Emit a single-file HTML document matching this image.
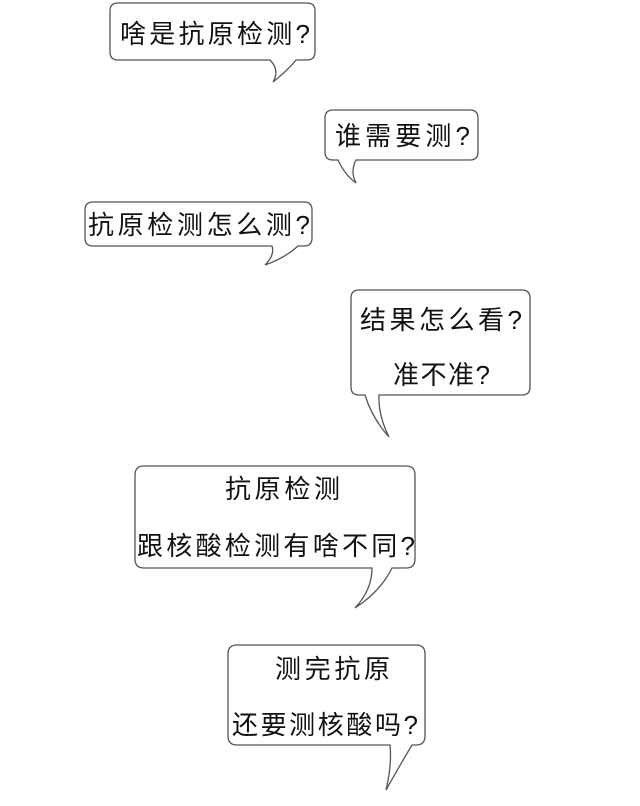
<!DOCTYPE html>
<html><head><meta charset="utf-8"><style>
html,body{margin:0;padding:0;background:#fff;}
svg{display:block}
text{font-family:"Liberation Sans","Noto Sans CJK SC",sans-serif;font-size:26px;fill:#111;}
</style></head><body>
<svg width="640" height="806" viewBox="0 0 640 806" xmlns="http://www.w3.org/2000/svg">
<g fill="#fff" stroke="#555" stroke-width="1.3">
<path d="M118,3 H307 Q315,3 315,11 V52 Q315,60 307,60 H296 Q288,70 273,82 Q280,70 270,60 H118 Q110,60 110,52 V11 Q110,3 118,3 Z"/>
<path d="M333,110 H470 Q478,110 478,118 V152 Q478,160 470,160 H356 Q350,172 356,183 Q345,175 338,160 H333 Q325,160 325,152 V118 Q325,110 333,110 Z"/>
<path d="M93,202 H304 Q312,202 312,210 V238 Q312,246 304,246 H298 Q285,258 265,265 Q275,255 272,246 H93 Q85,246 85,238 V210 Q85,202 93,202 Z"/>
<path d="M359,290 H522 Q530,290 530,298 V387 Q530,395 522,395 H379 Q378,415 389,437 Q372,418 365,395 H359 Q351,395 351,387 V298 Q351,290 359,290 Z"/>
<path d="M144,466 H406 Q415,466 415,475 V559 Q415,568 406,568 H392 Q380,592 355,608 Q372,590 372,568 H144 Q135,568 135,559 V475 Q135,466 144,466 Z"/>
<path d="M237,645 H416 Q425,645 425,654 V736 Q425,745 416,745 H412 Q400,765 386,790 Q392,765 390,745 H237 Q228,745 228,736 V654 Q228,645 237,645 Z"/>
</g>
<text x="120" y="43" textLength="190" lengthAdjust="spacing">啥是抗原检测?</text>
<text x="335" y="145" textLength="135" lengthAdjust="spacing">谁需要测?</text>
<text x="88" y="234" textLength="222" lengthAdjust="spacing">抗原检测怎么测?</text>
<text x="360" y="329" textLength="162" lengthAdjust="spacing">结果怎么看?</text>
<text x="393" y="384" textLength="97" lengthAdjust="spacing">准不准?</text>
<text x="225" y="498" textLength="115" lengthAdjust="spacing">抗原检测</text>
<text x="137" y="555" textLength="278" lengthAdjust="spacing">跟核酸检测有啥不同?</text>
<text x="275" y="678" textLength="115" lengthAdjust="spacing">测完抗原</text>
<text x="232" y="734" textLength="186" lengthAdjust="spacing">还要测核酸吗?</text>
</svg>
</body></html>
